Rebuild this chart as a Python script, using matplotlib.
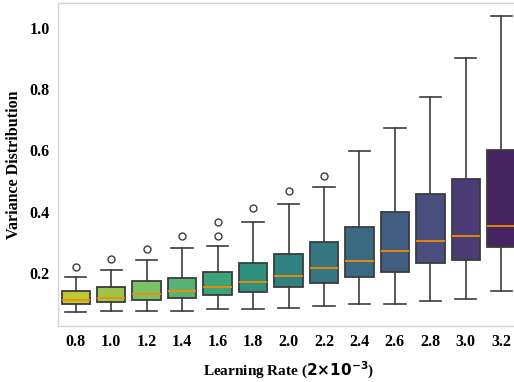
import numpy as np
import matplotlib
matplotlib.use("Agg")
import matplotlib.pyplot as plt
import seaborn as sns

# learning rates (x categories)
lr_labels = ["0.8", "1.0", "1.2", "1.4", "1.6", "1.8", "2.0", "2.2", "2.4", "2.6", "2.8", "3.0", "3.2"]

# box statistics
whis_lo = [0.072, 0.074, 0.075, 0.076, 0.081, 0.083, 0.086, 0.091, 0.097, 0.098, 0.107, 0.115, 0.141]
q1 = [0.097, 0.103, 0.112, 0.119, 0.127, 0.138, 0.152, 0.168, 0.185, 0.204, 0.232, 0.243, 0.285]
med = [0.110, 0.119, 0.129, 0.140, 0.153, 0.170, 0.189, 0.215, 0.240, 0.271, 0.303, 0.320, 0.353]
q3 = [0.139, 0.154, 0.174, 0.184, 0.202, 0.231, 0.263, 0.301, 0.350, 0.400, 0.458, 0.508, 0.601]
whis_hi = [0.185, 0.210, 0.242, 0.280, 0.289, 0.366, 0.425, 0.482, 0.597, 0.674, 0.776, 0.901, 1.039]
outliers = [[0.219], [0.246], [0.279], [0.319], [0.319, 0.366], [0.413], [0.466], [0.515],
            [], [], [], [], []]

plt.rcParams['font.family'] = ['Liberation Serif', 'DejaVu Serif']
plt.rcParams['font.weight'] = 'bold'
plt.rcParams['mathtext.fontset'] = 'dejavusans'

fig = plt.figure(figsize=(5.14, 3.82), dpi=100)
ax = fig.add_axes([58 / 514, 56 / 382, 461 / 514, 323 / 382])

stats = []
for i in range(len(lr_labels)):
    stats.append(dict(whislo=whis_lo[i], q1=q1[i], med=med[i], q3=q3[i],
                      whishi=whis_hi[i], fliers=outliers[i]))

pal = sns.color_palette("viridis_r", 13)
pal = [sns.desaturate(c, 0.75) for c in pal]

edge = "#3c3c3c"
bp = ax.bxp(stats, positions=range(len(lr_labels)), widths=0.8, patch_artist=True,
            boxprops=dict(edgecolor=edge, linewidth=1.3),
            whiskerprops=dict(color=edge, linewidth=1.2),
            capprops=dict(color=edge, linewidth=1.2),
            medianprops=dict(color="#f28c00", linewidth=1.3),
            flierprops=dict(marker="o", markerfacecolor="none", markeredgecolor=edge,
                            markersize=5, markeredgewidth=1.0))
for patch, c in zip(bp["boxes"], pal):
    patch.set_facecolor(c)

for cap in bp["caps"]:
    x = cap.get_xdata()
    mid = x.mean()
    cap.set_xdata([mid - 0.3, mid + 0.3])

ax.set_xlim(-0.5, 12.5)
ax.set_ylim(0.026, 1.082)
ax.set_xticks(range(len(lr_labels)))
ax.set_xticklabels(lr_labels)
ax.set_yticks([0.2, 0.4, 0.6, 0.8, 1.0])
ax.set_yticklabels(["0.2", "0.4", "0.6", "0.8", "1.0"])
ax.tick_params(length=0, labelsize=11.5, pad=6)
for lab in ax.get_xticklabels() + ax.get_yticklabels():
    lab.set_fontweight('bold')

for s in ax.spines.values():
    s.set_color("#d4d4d4")
    s.set_linewidth(1.0)

ax.set_xlabel(r"Learning Rate ($\mathbf{2{\times}10^{-3}}$)", fontsize=11, fontweight='bold', labelpad=7)
ax.set_ylabel("Variance Distribution", fontsize=11.5, fontweight='bold', labelpad=5)

fig.savefig("out.png", dpi=100)
